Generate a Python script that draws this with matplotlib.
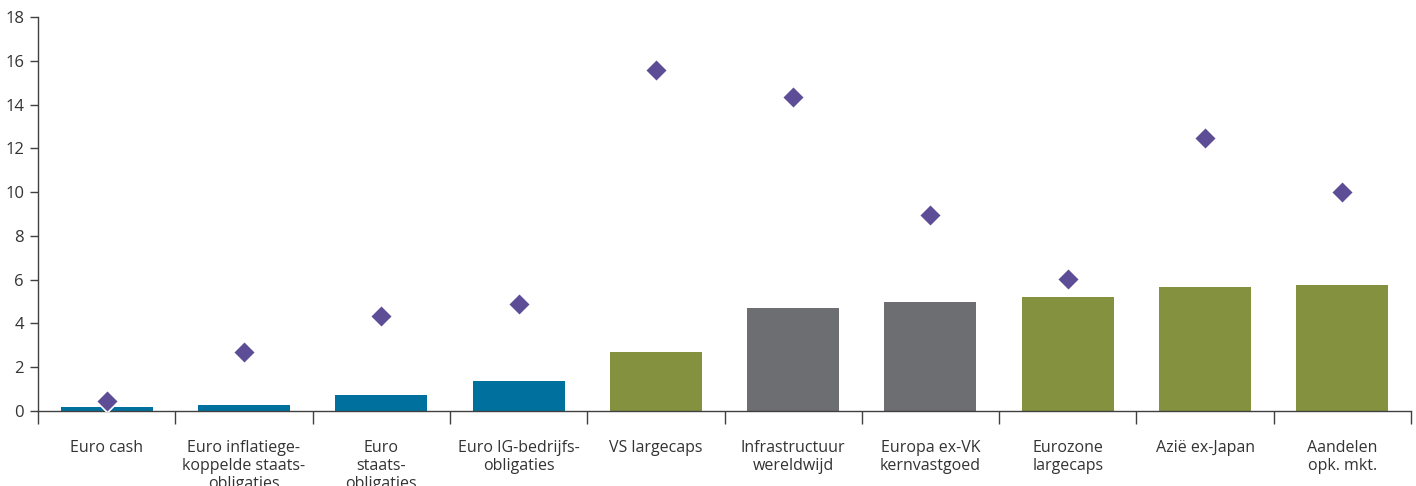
import numpy as np
import matplotlib
matplotlib.use("Agg")
import matplotlib.pyplot as plt

    #Data
categories = ["Euro cash", "Euro inflatiege-\nkoppelde staats-\nobligaties",
              "Euro\nstaats-\nobligaties", "Euro IG-bedrijfs-\nobligaties",
              "VS largecaps", "Infrastructuur\nwereldwijd",
              "Europa ex-VK\nkernvastgoed", "Eurozone\nlargecaps",
              "Azië ex-Japan", "Aandelen\nopk. mkt."]
bar_values     = [0.18, 0.27, 0.73, 1.37, 2.70, 4.70, 4.98, 5.20, 5.66, 5.75]
diamond_values = [0.46, 2.70, 4.34, 4.89, 15.57, 14.34, 8.95, 6.03, 12.47, 10.0]
groups = ["bond", "bond", "bond", "bond", "equity", "alt", "alt",
          "equity", "equity", "equity"]
yticks = [0, 2, 4, 6, 8, 10, 12, 14, 16, 18]

group_colors = {"bond": "#00709f", "equity": "#84923f", "alt": "#6d6e71"}
axis_color = "#404040"

plt.rcParams['font.family'] = ['Open Sans', 'DejaVu Sans']

fig = plt.figure(figsize=(14.16, 4.86), dpi=100)
ax = fig.add_axes([38/1416, 75/486, (1411-38)/1416, (411-17)/486])

x = np.arange(len(categories))
ax.bar(x, bar_values, width=0.67, color=[group_colors[g] for g in groups],
       zorder=2)
ax.scatter(x, diamond_values, marker="D", s=130, color="#5c4d96",
           edgecolor="white", linewidth=1.2, zorder=3)

ax.set_xlim(-0.5, len(categories) - 0.5)
ax.set_ylim(0, 18)
ax.set_yticks(yticks)
ax.set_xticks(x)
ax.set_xticklabels(categories, fontsize=11.5, color="#333333",
                   linespacing=1.15, va="top")
ax.set_xticks(np.arange(-0.5, len(categories)), minor=True)
ax.tick_params(axis="x", which="major", length=0, pad=21)
ax.tick_params(axis="x", which="minor", length=9, width=1, color=axis_color,
               direction="out")
ax.tick_params(axis="y", length=6, width=1, color=axis_color,
               labelsize=12, labelcolor="#333333", pad=4)

for side in ["top", "right"]:
    ax.spines[side].set_visible(False)
for side in ["left", "bottom"]:
    ax.spines[side].set_color(axis_color)
    ax.spines[side].set_linewidth(1)

fig.savefig("out.png", dpi=100)
